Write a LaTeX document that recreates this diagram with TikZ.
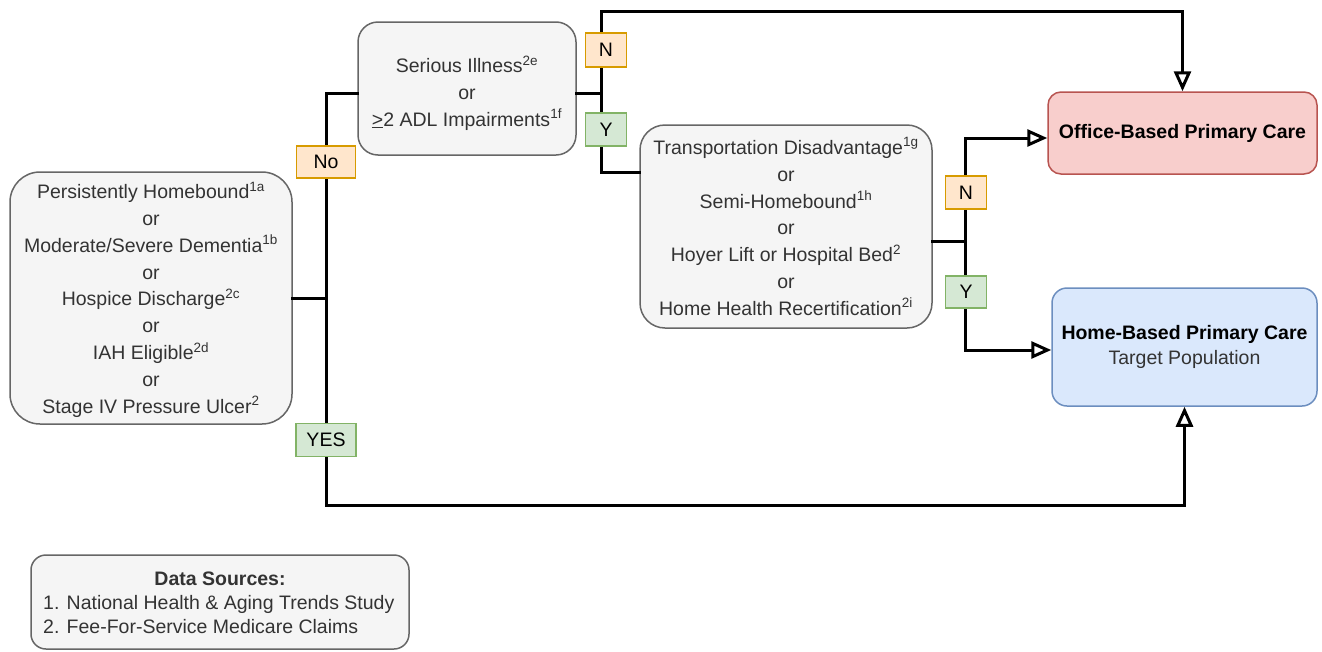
\documentclass[tikz,border=0pt]{standalone}
\usepackage{fontspec}
\setmainfont{Liberation Sans}
\usetikzlibrary{arrows.meta}
\definecolor{boxfill}{HTML}{F5F5F5}
\definecolor{boxline}{HTML}{666666}
\definecolor{txt}{HTML}{333333}
\definecolor{orfill}{HTML}{FFE6CC}
\definecolor{orline}{HTML}{D79B00}
\definecolor{grfill}{HTML}{D5E8D4}
\definecolor{grline}{HTML}{82B366}
\definecolor{rdfill}{HTML}{F8CECC}
\definecolor{rdline}{HTML}{B85450}
\definecolor{blfill}{HTML}{DAE8FC}
\definecolor{blline}{HTML}{6C8EBF}
\tikzset{
  crit/.style={draw=boxline, fill=boxfill, line width=1.5pt, align=center,
    text=txt, inner sep=0pt, font=\fontsize{19.5}{26.8}\selectfont},
  outbox/.style={line width=1.5pt, align=center, inner sep=0pt,
    font=\fontsize{19.5}{25}\selectfont},
  lab/.style={line width=1.5pt, inner sep=0pt, font=\fontsize{19.5}{22}\selectfont},
  nlab/.style={lab, draw=orline, fill=orfill},
  ylab/.style={lab, draw=grline, fill=grfill},
  conn/.style={line width=3pt, line cap=rect},
  arr/.style={conn, -{Triangle[open, length=20pt, width=17pt]}},
}
\newcommand{\sps}[1]{\textsuperscript{\fontsize{13.5}{13.5}\selectfont #1}}
\begin{document}
\begin{tikzpicture}[x=1pt, y=-1pt]
\useasboundingbox (0,0) rectangle (1322,651);
\fill[white] (0,0) rectangle (1322,651);

% nodes
\node[crit, rounded corners=30pt, minimum width=282pt, minimum height=252pt] (left) at (151,298)
  {\rule{0pt}{20pt}Persistently Homebound\sps{1a}\\ or\\ Moderate/Severe Dementia\sps{1b}\\ or\\ Hospice Discharge\sps{2c}\\ or\\ IAH Eligible\sps{2d}\\ or\\ Stage IV Pressure Ulcer\sps{2}};
\node[crit, rounded corners=20pt, minimum width=218pt, minimum height=133pt] (serious) at (467,88.5)
  {\rule{0pt}{26pt}Serious Illness\sps{2e}\\ or\\ \underline{>}2 ADL Impairments\sps{1f}};
\node[crit, rounded corners=25pt, minimum width=292pt, minimum height=203pt] (trans) at (786,226.5)
  {Transportation Disadvantage\sps{1g}\\ or\\ Semi-Homebound\sps{1h}\\ or\\ Hoyer Lift or Hospital Bed\sps{2}\\ or\\ Home Health Recertification\sps{2i}};
\node[outbox, draw=rdline, fill=rdfill, rounded corners=13pt, minimum width=269pt, minimum height=82pt] (office) at (1182.5,133)
  {\bfseries Office-Based Primary Care};
\node[outbox, draw=blline, fill=blfill, rounded corners=15pt, minimum width=265pt, minimum height=118pt] (home) at (1184.5,347)
  {\bfseries Home-Based Primary Care\\ \color{txt}Target Population};
\node[crit, rounded corners=15pt, minimum width=378pt, minimum height=94pt] (data) at (220,602)
  {};
\node[font=\fontsize{19.5}{24}\selectfont, text=txt, anchor=north, inner sep=0pt] (dtitle) at (220,572) {\bfseries Data Sources:};
\node[font=\fontsize{19.5}{24}\selectfont, text=txt, anchor=north west, inner sep=0pt, align=left] (dlist) at (43,595)
  {1. National Health \& Aging Trends Study\\ 2. Fee-For-Service Medicare Claims};

% junction coordinates
\coordinate (j1) at (326,298);
\coordinate (j1t) at (326,93);
\coordinate (j1b) at (326,505);
\coordinate (j2) at (601,93);
\coordinate (j2t) at (601,11);
\coordinate (j2b) at (601,172);
\coordinate (j3) at (965,241);
\coordinate (j3t) at (965,138);
\coordinate (j3b) at (965,350);

% connectors
\draw[conn] (left.east) -- (j1);
\draw[conn] (j1t) -- (j1b);
\draw[conn] (j1t) -- (j1t -| serious.west);
\draw[arr] (j1b) -| (home.south);
\draw[conn] (j2 -| serious.east) -- (j2);
\draw[conn] (j2t) -- (j2b);
\draw[arr] (j2t) -| (office.north);
\draw[conn] (j2b) -- (j2b -| trans.west);
\draw[conn] (j3 -| trans.east) -- (j3);
\draw[conn] (j3t) -- (j3b);
\draw[arr] (j3t) -- (j3t -| office.west);
\draw[arr] (j3b) -- (j3b -| home.west);

% labels
\node[nlab, minimum width=59pt, minimum height=32pt] (lno) at (326,162) {No};
\node[ylab, minimum width=60pt, minimum height=33pt] (lyes) at (326,440) {YES};
\node[nlab, minimum width=41pt, minimum height=34pt] (ln1) at (606,50) {N};
\node[ylab, minimum width=41pt, minimum height=33pt] (ly1) at (606,129.5) {Y};
\node[nlab, minimum width=41pt, minimum height=33pt] (ln2) at (966,192.5) {N};
\node[ylab, minimum width=41pt, minimum height=32pt] (ly2) at (966,292) {Y};
\end{tikzpicture}
\end{document}
